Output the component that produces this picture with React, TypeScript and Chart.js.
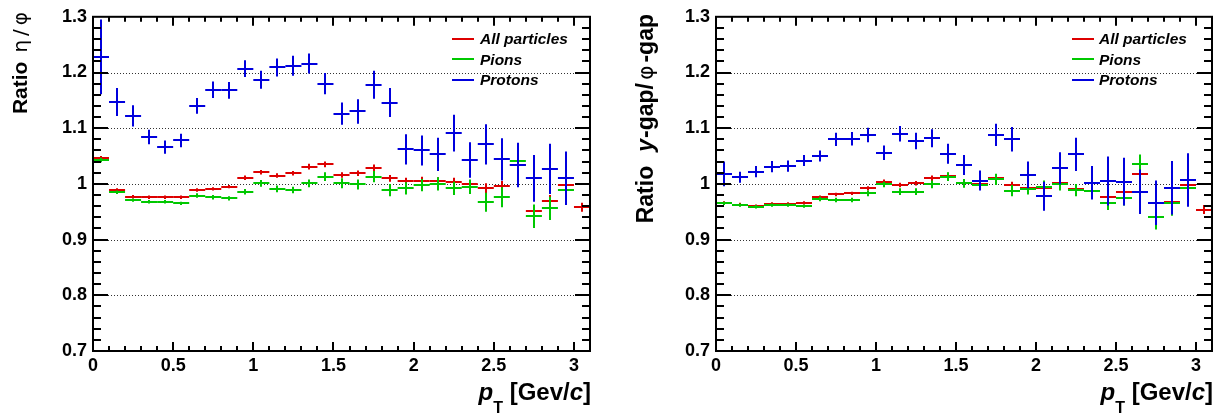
import React, { useEffect, useRef } from 'react';
import { Chart, registerables } from 'chart.js';

Chart.register(...registerables);
Chart.defaults.font.family = 'Liberation Sans, Arial, sans-serif';

// ---------- data ----------
const pT = [0.05, 0.15, 0.25, 0.35, 0.45, 0.55, 0.65, 0.75, 0.85, 0.95, 1.05, 1.15, 1.25, 1.35, 1.45, 1.55, 1.65, 1.75, 1.85, 1.95, 2.05, 2.15, 2.25, 2.35, 2.45, 2.55, 2.65, 2.75, 2.85, 2.95, 3.05];
const binHalfWidth = 0.05;
const xTickValues = [0, 0.5, 1, 1.5, 2, 2.5, 3];
const yTickValues = [0.7, 0.8, 0.9, 1.0, 1.1, 1.2, 1.3];
const seriesLabels = ['All particles', 'Pions', 'Protons'];

// left panel: Ratio eta/phi
const etaAll = [1.046, 0.989, 0.977, 0.976, 0.976, 0.976, 0.989, 0.991, 0.995, 1.011, 1.021, 1.015, 1.019, 1.031, 1.035, 1.016, 1.019, 1.029, 1.010, 1.005, 1.006, 1.005, 1.004, 0.999, 0.992, 0.996, 1.034, 0.951, 0.969, 0.998, 0.958];
const etaAllErr = [0.004, 0.003, 0.003, 0.003, 0.003, 0.003, 0.003, 0.003, 0.003, 0.004, 0.004, 0.004, 0.004, 0.005, 0.005, 0.005, 0.005, 0.006, 0.006, 0.006, 0.007, 0.007, 0.007, 0.008, 0.009, 0.009, 0.010, 0.011, 0.011, 0.012, 0.008];
const etaPion = [1.043, 0.985, 0.971, 0.968, 0.968, 0.965, 0.979, 0.976, 0.974, 0.986, 1.001, 0.991, 0.989, 1.001, 1.013, 1.001, 0.999, 1.013, 0.989, 0.992, 0.998, 1.000, 0.992, 0.995, 0.967, 0.976, 1.041, 0.942, 0.956, 0.989, null];
const etaPionErr = [0.004, 0.003, 0.003, 0.003, 0.003, 0.003, 0.004, 0.004, 0.004, 0.005, 0.006, 0.006, 0.006, 0.007, 0.008, 0.009, 0.009, 0.010, 0.011, 0.011, 0.011, 0.012, 0.012, 0.013, 0.017, 0.018, 0.018, 0.021, 0.021, 0.022, null];
const etaProton = [1.228, 1.147, 1.122, 1.084, 1.066, 1.078, 1.140, 1.169, 1.168, 1.207, 1.187, 1.209, 1.212, 1.216, 1.180, 1.126, 1.130, 1.178, 1.146, 1.062, 1.060, 1.053, 1.091, 1.043, 1.071, 1.044, 1.034, 1.010, 1.027, 1.010, null];
const etaProtonErr = [0.067, 0.025, 0.019, 0.013, 0.012, 0.012, 0.014, 0.015, 0.015, 0.015, 0.016, 0.016, 0.018, 0.018, 0.019, 0.020, 0.022, 0.025, 0.026, 0.027, 0.027, 0.030, 0.033, 0.032, 0.036, 0.038, 0.040, 0.042, 0.045, 0.048, null];

// right panel: Ratio y-gap/phi-gap
const gapAll = [0.966, 0.963, 0.960, 0.964, 0.964, 0.966, 0.976, 0.981, 0.983, 0.992, 1.004, 0.998, 1.001, 1.010, 1.015, 1.001, 0.999, 1.010, 0.998, 0.992, 0.992, 1.001, 0.990, 0.987, 0.976, 0.986, 1.018, 0.941, 0.968, 0.998, 0.954];
const gapAllErr = [0.003, 0.003, 0.003, 0.003, 0.003, 0.003, 0.003, 0.003, 0.003, 0.004, 0.004, 0.004, 0.004, 0.005, 0.005, 0.005, 0.005, 0.006, 0.006, 0.006, 0.007, 0.007, 0.007, 0.008, 0.008, 0.009, 0.010, 0.011, 0.011, 0.012, 0.008];
const gapPion = [0.965, 0.962, 0.959, 0.962, 0.962, 0.960, 0.973, 0.971, 0.971, 0.983, 0.999, 0.986, 0.986, 0.999, 1.013, 1.001, 0.998, 1.008, 0.988, 0.991, 0.995, 0.999, 0.989, 0.988, 0.966, 0.975, 1.035, 0.940, 0.965, 0.992, null];
const gapPionErr = [0.003, 0.003, 0.003, 0.003, 0.003, 0.003, 0.004, 0.004, 0.004, 0.005, 0.005, 0.006, 0.006, 0.007, 0.008, 0.008, 0.009, 0.010, 0.010, 0.010, 0.011, 0.011, 0.011, 0.012, 0.013, 0.014, 0.018, 0.022, 0.022, 0.016, null];
const gapProton = [1.018, 1.012, 1.022, 1.031, 1.032, 1.042, 1.050, 1.080, 1.081, 1.088, 1.056, 1.090, 1.077, 1.082, 1.054, 1.034, 1.006, 1.088, 1.080, 1.016, 0.978, 1.028, 1.053, 1.002, 1.005, 1.004, 0.986, 0.966, 0.993, 1.007, null];
const gapProtonErr = [0.022, 0.010, 0.010, 0.010, 0.010, 0.010, 0.010, 0.012, 0.012, 0.013, 0.013, 0.014, 0.015, 0.016, 0.018, 0.018, 0.018, 0.020, 0.022, 0.024, 0.026, 0.029, 0.030, 0.030, 0.044, 0.043, 0.040, 0.040, 0.048, 0.048, null];

// ---------- styles ----------
const COLORS = ['#dd0000', '#00c800', '#0000dd'];
const FONT = 'Liberation Sans, Arial, sans-serif';
const GREEK = 'DejaVu Sans, sans-serif';

type Seg = { t: string; f: string; g?: number; dy?: number };

const panels = [
  {
    left: 0,
    yAxisWidth: 93,
    padRight: 25,
    series: [
      [etaAll, etaAllErr],
      [etaPion, etaPionErr],
      [etaProton, etaProtonErr],
    ],
    yTitle: [
      { t: 'Ratio', f: `bold 21px ${FONT}`, g: 9 },
      { t: 'η', f: `20px ${GREEK}`, g: 4 },
      { t: '/', f: `20px ${GREEK}`, g: 4 },
      { t: 'φ', f: `20px ${GREEK}` },
    ] as Seg[],
    yTitleX: 27,
    yTitleEnd: 12,
    legendX0: 452,
    legendX1: 474,
    legendTextX: 480,
  },
  {
    left: 615,
    yAxisWidth: 101,
    padRight: 18,
    series: [
      [gapAll, gapAllErr],
      [gapPion, gapPionErr],
      [gapProton, gapProtonErr],
    ],
    yTitle: [
      { t: 'Ratio', f: `bold 23px ${FONT}`, g: 14 },
      { t: 'y', f: `italic bold 23px ${FONT}`, g: 1 },
      { t: '-gap/', f: `bold 23px ${FONT}`, g: 3 },
      { t: 'φ', f: `22px ${GREEK}`, g: 3 },
      { t: '-gap', f: `bold 23px ${FONT}` },
    ] as Seg[],
    yTitleX: 37.5,
    yTitleEnd: 14,
    legendX0: 457,
    legendX1: 479,
    legendTextX: 484,
  },
];

const legendRows = [38.5, 59.3, 80];

function segWidths(ctx: CanvasRenderingContext2D, segs: Seg[]) {
  return segs.map((s) => {
    ctx.font = s.f;
    return ctx.measureText(s.t).width;
  });
}

function segTotal(segs: Seg[], widths: number[]) {
  return widths.reduce((s, w, i) => s + w + (i < segs.length - 1 ? segs[i].g || 0 : 0), 0);
}

function drawSegs(ctx: CanvasRenderingContext2D, segs: Seg[], widths: number[]) {
  let x = 0;
  segs.forEach((s, i) => {
    ctx.font = s.f;
    ctx.fillText(s.t, x, s.dy || 0);
    x += widths[i] + (s.g || 0);
  });
}

function makeFramePlugin(p: any) {
  return {
    id: 'rootFrame',
    beforeDatasetsDraw(chart: any) {
      const { ctx, chartArea: a, scales } = chart;
      const y = scales.y;
      ctx.save();
      ctx.strokeStyle = '#333';
      ctx.lineWidth = 1;
      ctx.setLineDash([1, 2]);
      yTickValues.forEach((v) => {
        if (v <= 0.7 + 1e-6 || v >= 1.3 - 1e-6) return;
        const py = Math.round(y.getPixelForValue(v)) + 0.5;
        ctx.beginPath();
        ctx.moveTo(a.left, py);
        ctx.lineTo(a.right, py);
        ctx.stroke();
      });
      ctx.restore();
    },
    afterDatasetsDraw(chart: any) {
      const { ctx, chartArea: a, scales } = chart;
      const x = scales.x;
      const y = scales.y;
      ctx.save();
      ctx.beginPath();
      ctx.rect(a.left, a.top, a.right - a.left, a.bottom - a.top);
      ctx.clip();
      ctx.lineWidth = 2;
      ctx.lineCap = 'butt';
      chart.data.datasets.forEach((ds: any) => {
        ctx.strokeStyle = ds.borderColor;
        ds.data.forEach((pt: any, i: number) => {
          if (pt.y == null) return;
          const e = ds.yErr[i] || 0;
          const x0 = x.getPixelForValue(pt.x - binHalfWidth);
          const x1 = x.getPixelForValue(pt.x + binHalfWidth);
          const xc = Math.round(x.getPixelForValue(pt.x));
          const yc = Math.round(y.getPixelForValue(pt.y));
          const y0 = y.getPixelForValue(pt.y - e);
          const y1 = y.getPixelForValue(pt.y + e);
          ctx.beginPath();
          ctx.moveTo(x0, yc);
          ctx.lineTo(x1, yc);
          ctx.moveTo(xc, y0);
          ctx.lineTo(xc, y1);
          ctx.stroke();
        });
      });
      ctx.restore();
    },
    afterDraw(chart: any) {
      const { ctx, chartArea: a, scales } = chart;
      const x = scales.x;
      const y = scales.y;
      ctx.save();
      // frame
      ctx.strokeStyle = '#000';
      ctx.lineWidth = 2;
      ctx.strokeRect(a.left, a.top, a.right - a.left, a.bottom - a.top);
      // y ticks (inside, both sides)
      ctx.beginPath();
      for (let k = 1; k < 30; k++) {
        const v = 0.7 + k * 0.02;
        const major = k % 5 === 0;
        const len = major ? 15 : 8;
        const py = Math.round(y.getPixelForValue(v));
        ctx.moveTo(a.left, py);
        ctx.lineTo(a.left + len, py);
        ctx.moveTo(a.right, py);
        ctx.lineTo(a.right - len, py);
      }
      // x ticks (inside, top and bottom)
      for (let k = 1; k <= 31; k++) {
        const v = k * 0.1;
        if (v > 3.1 - 1e-6) break;
        const major = k % 5 === 0;
        const len = major ? 9 : 5;
        const px = Math.round(x.getPixelForValue(v));
        ctx.moveTo(px, a.bottom);
        ctx.lineTo(px, a.bottom - len);
        ctx.moveTo(px, a.top);
        ctx.lineTo(px, a.top + len);
      }
      ctx.stroke();

      // legend
      ctx.textBaseline = 'middle';
      ctx.textAlign = 'left';
      chart.data.datasets.forEach((ds: any, i: number) => {
        const ly = legendRows[i];
        ctx.strokeStyle = ds.borderColor;
        ctx.lineWidth = 2;
        ctx.beginPath();
        ctx.moveTo(p.legendX0, Math.round(ly));
        ctx.lineTo(p.legendX1, Math.round(ly));
        ctx.stroke();
        ctx.fillStyle = '#000';
        ctx.font = `italic bold 15.5px ${FONT}`;
        ctx.fillText(ds.label, p.legendTextX, ly + 1);
      });

      // x title (right-aligned to the frame)
      ctx.fillStyle = '#000';
      ctx.textBaseline = 'alphabetic';
      const xSegs: Seg[] = [
        { t: 'p', f: `italic bold 24px ${FONT}` },
        { t: 'T', f: `bold 16px ${FONT}`, dy: 13 },
        { t: ' [Gev/', f: `bold 24px ${FONT}` },
        { t: 'c', f: `italic bold 24px ${FONT}` },
        { t: ']', f: `bold 24px ${FONT}` },
      ];
      const xw = segWidths(ctx, xSegs);
      const xTot = segTotal(xSegs, xw);
      ctx.save();
      ctx.translate(a.right + 1 - xTot, 400);
      drawSegs(ctx, xSegs, xw);
      ctx.restore();

      // y title (rotated, end aligned to the top of the frame)
      const yw = segWidths(ctx, p.yTitle);
      const yTot = segTotal(p.yTitle, yw);
      ctx.save();
      ctx.translate(p.yTitleX, p.yTitleEnd + yTot);
      ctx.rotate(-Math.PI / 2);
      drawSegs(ctx, p.yTitle, yw);
      ctx.restore();

      ctx.restore();
    },
  };
}

function Panel({ p }: { p: any }) {
  const ref = useRef<HTMLCanvasElement | null>(null);
  useEffect(() => {
    if (!ref.current) return;
    const datasets = p.series.map((s: any, i: number) => ({
      label: seriesLabels[i],
      data: pT.map((xv, j) => ({ x: xv, y: s[0][j] })),
      yErr: s[1],
      borderColor: COLORS[i],
      backgroundColor: COLORS[i],
      showLine: false,
      pointRadius: 0,
      pointHoverRadius: 0,
    }));
    const tickFont = { family: FONT, size: 18, weight: 'bold' as const };
    const fmt = (v: any) => String(Math.round(Number(v) * 10) / 10);
    const chart = new Chart(ref.current, {
      type: 'scatter',
      data: { datasets },
      options: {
        animation: false,
        responsive: false,
        maintainAspectRatio: false,
        events: [],
        layout: { padding: { top: 13, right: p.padRight, bottom: 0, left: 0 } },
        plugins: { legend: { display: false }, tooltip: { enabled: false } },
        scales: {
          x: {
            type: 'linear',
            min: 0,
            max: 3.1,
            afterBuildTicks: (s: any) => {
              s.ticks = xTickValues.map((v) => ({ value: v }));
            },
            afterFit: (s: any) => {
              s.height = 65;
            },
            grid: { display: false, drawTicks: false },
            border: { display: false },
            ticks: { font: tickFont, color: '#000', padding: 4, callback: fmt, autoSkip: false, maxRotation: 0 },
          },
          y: {
            type: 'linear',
            min: 0.7,
            max: 1.3,
            afterBuildTicks: (s: any) => {
              s.ticks = yTickValues.map((v) => ({ value: v }));
            },
            afterFit: (s: any) => {
              s.width = p.yAxisWidth;
            },
            grid: { display: false, drawTicks: false },
            border: { display: false },
            ticks: { font: tickFont, color: '#000', padding: 6, callback: fmt, autoSkip: false },
          },
        },
      },
      plugins: [makeFramePlugin(p)],
    } as any);
    return () => chart.destroy();
  }, [p]);
  return (
    <canvas
      ref={ref}
      width={615}
      height={416}
      style={{ position: 'absolute', left: p.left, top: 0, width: 615, height: 416 }}
    />
  );
}

export default function App() {
  return (
    <div style={{ position: 'absolute', left: 0, top: 0, width: 1230, height: 416, background: '#fff', overflow: 'hidden' }}>
      {panels.map((p, i) => (
        <Panel key={i} p={p} />
      ))}
    </div>
  );
}
